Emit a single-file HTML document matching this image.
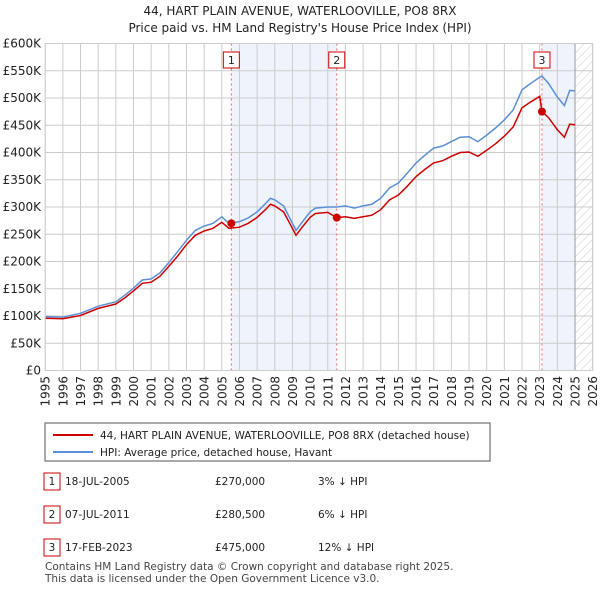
<!DOCTYPE html>
<html><head><meta charset="utf-8"><style>
body{margin:0;background:#fff;font-family:"DejaVu Sans","Liberation Sans",sans-serif;}
svg text{font-family:"DejaVu Sans","Liberation Sans",sans-serif;}
</style></head><body>
<svg id="c" width="600" height="590" xmlns="http://www.w3.org/2000/svg">
<defs><pattern id="hatch" width="6" height="6" patternUnits="userSpaceOnUse" patternTransform="rotate(45)"><line x1="0" y1="0" x2="0" y2="6" stroke="#ccc" stroke-width="1"/></pattern></defs>
<text x="300" y="15" text-anchor="middle" font-size="12" fill="#222">44, HART PLAIN AVENUE, WATERLOOVILLE, PO8 8RX</text>
<text x="300" y="32" text-anchor="middle" font-size="12" fill="#222">Price paid vs. HM Land Registry's House Price Index (HPI)</text>
<g id="plot"></g>
<g>
<rect x="45" y="423" width="445" height="38" fill="#fff" stroke="#555"/>
<line x1="53" y1="435" x2="93" y2="435" stroke="#cc0000" stroke-width="2"/>
<text x="100" y="439" font-size="10.5" fill="#222">44, HART PLAIN AVENUE, WATERLOOVILLE, PO8 8RX (detached house)</text>
<line x1="53" y1="452" x2="93" y2="452" stroke="#5b8fd4" stroke-width="2"/>
<text x="100" y="456" font-size="10.5" fill="#222">HPI: Average price, detached house, Havant</text>
</g>
<g font-size="10.5" fill="#222">
<rect x="44" y="473" width="16" height="17" fill="#fff" stroke="#cc0000"/><text x="52" y="485" text-anchor="middle">1</text>
<text x="65" y="485">18-JUL-2005</text><text x="215" y="485">£270,000</text><text x="318" y="485">3% ↓ HPI</text>
<rect x="44" y="506" width="16" height="17" fill="#fff" stroke="#cc0000"/><text x="52" y="518" text-anchor="middle">2</text>
<text x="65" y="518">07-JUL-2011</text><text x="215" y="518">£280,500</text><text x="318" y="518">6% ↓ HPI</text>
<rect x="44" y="539" width="16" height="17" fill="#fff" stroke="#cc0000"/><text x="52" y="551" text-anchor="middle">3</text>
<text x="65" y="551">17-FEB-2023</text><text x="215" y="551">£475,000</text><text x="318" y="551">12% ↓ HPI</text>
</g>
<text x="45" y="570" font-size="10.5" fill="#444">Contains HM Land Registry data © Crown copyright and database right 2025.</text>
<text x="45" y="582" font-size="10.5" fill="#444">This data is licensed under the Open Government Licence v3.0.</text>
</svg>
<script>
const dates=[1995,1996,1997,1998,1999,1999.5,2000,2000.5,2001,2001.5,2002,2002.5,2003,2003.5,2004,2004.5,2005,2005.4,2006,2006.5,2007,2007.5,2007.75,2008,2008.5,2009,2009.2,2009.5,2010,2010.3,2011,2011.5,2012,2012.5,2013,2013.5,2014,2014.5,2015,2015.5,2016,2016.5,2017,2017.5,2018,2018.5,2019,2019.5,2020,2020.5,2021,2021.5,2022,2022.5,2023,2023.13,2023.5,2024,2024.4,2024.7,2025];
const hpi=[99,98,105,118,126,138,151,166,168,179,198,218,239,257,265,270,282,270,273,280,291,307,316,313,302,270,257,270,291,298,300,300,302,298,302,305,316,335,344,362,381,395,408,412,420,428,429,420,432,445,460,478,515,527,538,540,527,502,486,514,513];
const price=[96,95,101,114,122,133,146,160,162,173,191,210,231,248,256,261,272,261,263,270,281,296,305,302,291,261,248,261,281,288,290,280.5,282,279,282,285,295,313,322,338,356,369,381,385,393,400,401,393,404,416,430,447,482,493,503,475,464,442,428,452,451];
const saleDates=[2005.54,2011.51,2023.13];
const salePrices=[270,280.5,475];
const saleLabels=["1","2","3"];
const yTicks=[0,50,100,150,200,250,300,350,400,450,500,550,600];
const yTickLabels=["£0","£50K","£100K","£150K","£200K","£250K","£300K","£350K","£400K","£450K","£500K","£550K","£600K"];
const xTicks=[1995,1996,1997,1998,1999,2000,2001,2002,2003,2004,2005,2006,2007,2008,2009,2010,2011,2012,2013,2014,2015,2016,2017,2018,2019,2020,2021,2022,2023,2024,2025,2026];
const dataEnd=2025;
const NS="http://www.w3.org/2000/svg";
const X=t=>45.2+(t-1995)*17.66;
const Y=v=>370.5-v*0.545;
const g=document.getElementById('plot');
function mk(tag,attrs,parent){const e=document.createElementNS(NS,tag);for(const k in attrs)e.setAttribute(k,attrs[k]);(parent||g).appendChild(e);return e;}
const L=X(1995),R=X(2026),T=Y(600),B=Y(0);
let bg=mk('rect',{x:L,y:T,width:R-L,height:B-T,fill:'#fff'});


let s1=mk('rect',{x:X(saleDates[0]),y:T,width:X(saleDates[1])-X(saleDates[0]),height:B-T,fill:'#eef3fc'});


let s2=mk('rect',{x:X(saleDates[2]),y:T,width:X(dataEnd)-X(saleDates[2]),height:B-T,fill:'#eef3fc'});


let h=mk('rect',{x:X(dataEnd),y:T,width:R-X(dataEnd),height:B-T,fill:'url(#hatch)'});


xTicks.forEach(t=>{let l=mk('line',{x1:X(t),x2:X(t),y1:T,y2:B,stroke:'#ccc'});


const xx=X(t)+4.5,yy=376;
let tx=mk('text',{x:xx,y:yy,'text-anchor':'end','font-size':12,fill:'#222',transform:'rotate(-90 '+xx+' '+yy+')'});tx.textContent=t;

});
yTicks.forEach((v,i)=>{let l=mk('line',{x1:L,x2:R,y1:Y(v),y2:Y(v),stroke:'#ccc'});


let tx=mk('text',{x:41,y:Y(v)+4,'text-anchor':'end','font-size':12,fill:'#222'});tx.textContent=yTickLabels[i];

});
let ln=mk('line',{x1:X(dataEnd),x2:X(dataEnd),y1:T,y2:B,stroke:'#999'});


saleDates.forEach((d,i)=>{let l=mk('line',{x1:X(d),x2:X(d),y1:T,y2:B,stroke:'#e06666','stroke-dasharray':'2,3'});


let r=mk('rect',{x:X(d)-8,y:52,width:16,height:16,fill:'#fff',stroke:'#cc0000'});


let tx=mk('text',{x:X(d),y:64,'text-anchor':'middle','font-size':11,fill:'#222'});tx.textContent=saleLabels[i];

});
const pts=a=>a.map((v,i)=>X(dates[i]).toFixed(1)+','+Y(v).toFixed(1)).join(' ');
let hl=mk('polyline',{points:pts(hpi),fill:'none',stroke:'#5b8fd4','stroke-width':1.5});


let pl=mk('polyline',{points:pts(price),fill:'none',stroke:'#cc0000','stroke-width':1.5});


saleDates.forEach((d,i)=>{let c=mk('circle',{cx:X(d),cy:Y(salePrices[i]),r:4,fill:'#cc0000'});

});
let fr=mk('rect',{x:L,y:T,width:R-L,height:B-T,fill:'none',stroke:'#ccc'});


</script>
</body></html>
